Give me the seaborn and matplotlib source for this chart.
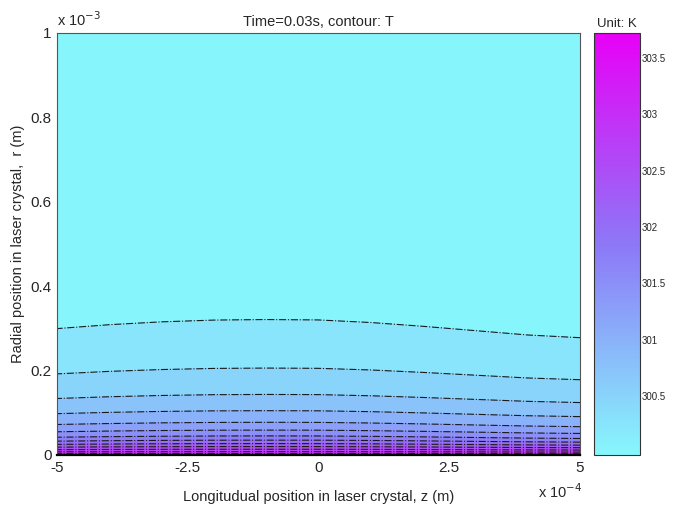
import numpy as np
import matplotlib
matplotlib.use("Agg")
import matplotlib.pyplot as plt
import seaborn as sns
from matplotlib.colors import Normalize
from matplotlib.cm import ScalarMappable

sns.set_style("white")
plt.rcParams['font.family'] = ['Liberation Sans', 'DejaVu Sans']

# ---- data ----
# isotherm temperatures (K) drawn as contour lines
line_levels = [300.25, 300.5, 300.75, 301.0, 301.25, 301.5, 301.75,
               302.0, 302.25, 302.5, 302.75, 303.0, 303.25]
# radius (mm) of each isotherm at its highest point (z ~ -1e-4 m)
line_radius_mm = [0.321, 0.206, 0.1435, 0.105, 0.0775, 0.059, 0.0452,
                  0.0352, 0.027, 0.020, 0.0136, 0.008, 0.0035]
# longitudinal stations (x 1e-4 m) and relative height of the isotherms there
z_stations = [-5, -4, -3, -2, -1, 0, 1, 2, 3, 4, 5]
z_shape = [0.933, 0.962, 0.983, 0.996, 1.0, 0.997, 0.978, 0.950, 0.918, 0.886, 0.866]
# temperature on axis and at outer edge
T_axis = 303.7
T_edge = 300.0
r_outer_mm = 1.0
cbar_ticks = [300.5, 301, 301.5, 302, 302.5, 303, 303.5]
x_ticks = [-5, -2.5, 0, 2.5, 5]
x_ticklabels = ["-5", "-2.5", "0", "2.5", "5"]
y_ticks = [0, 0.2, 0.4, 0.6, 0.8, 1]
y_ticklabels = ["0", "0.2", "0.4", "0.6", "0.8", "1"]

# ---- build curvilinear grid (rows: r=0, isotherms inward->outward, edge) ----
lv = np.array(line_levels)[::-1]
rr = np.array(line_radius_mm)[::-1]
shape = np.array(z_shape)
Zs = np.array(z_stations, dtype=float)
R = np.vstack([np.zeros_like(shape), np.outer(rr, shape), np.full_like(shape, r_outer_mm)])
T = np.concatenate([[T_axis], lv, [T_edge]])
TT = np.repeat(T[:, None], len(Zs), axis=1)
ZZ = np.repeat(Zs[None, :], len(T), axis=0)

cmap = sns.blend_palette([(0.53, 0.97, 0.99), (0.55, 0.47, 0.97), (0.91, 0.0, 0.97)], as_cmap=True)
norm = Normalize(vmin=299.98, vmax=303.72)

fig = plt.figure(figsize=(6.8, 5.07), dpi=100)
ax = fig.add_axes([57/680, 1-455/507, (580-57)/680, (455-33)/507])
cax = fig.add_axes([594/680, 1-455/507, 46/680, (455-33)/507])

fill_levels = [299.9] + line_levels + [303.8]
fill_colors = [cmap(norm(max(l, T_edge))) for l in fill_levels[:-1]]
ax.contourf(ZZ, R, TT, levels=fill_levels, colors=fill_colors)
ax.contour(ZZ, R, TT, levels=line_levels, colors='#1a1a1a', linewidths=0.8, linestyles='-.')

ax.set_xlim(-5, 5)
ax.set_ylim(0, 1)
ax.set_xticks(x_ticks)
ax.set_xticklabels(x_ticklabels)
ax.set_yticks(y_ticks)
ax.set_yticklabels(y_ticklabels)
ax.tick_params(direction='in', length=3, labelsize=11, pad=4)
for s in ax.spines.values():
    s.set_color('#555555')
    s.set_linewidth(0.8)
ax.spines['bottom'].set_color('#000000')
ax.spines['bottom'].set_linewidth(1.6)
ax.set_xlabel("Longitudual position in laser crystal, z (m)", fontsize=10.5, labelpad=11)
ax.set_ylabel("Radial position in laser crystal,  r (m)", fontsize=10.5, labelpad=4)
ax.set_title("Time=0.03s, contour: T", fontsize=10.5, pad=5)
fig.text(57/680, 1-20/507, r"x 10$^{-3}$", fontsize=10.5, ha='left', va='center')
fig.text(538/680, 1-492/507, r"x 10$^{-4}$", fontsize=10.5, ha='left', va='center')

cb = fig.colorbar(ScalarMappable(norm=norm, cmap=cmap), cax=cax)
cb.set_ticks(cbar_ticks)
cb.set_ticklabels([f"{t:g}" for t in cbar_ticks])
cax.tick_params(direction='in', length=3, labelsize=7, left=True, right=True, pad=1)
cb.outline.set_edgecolor('#333333')
cb.outline.set_linewidth(0.8)
cax.set_title("Unit: K", fontsize=9.5, pad=4)

fig.savefig("out.png", dpi=100)
